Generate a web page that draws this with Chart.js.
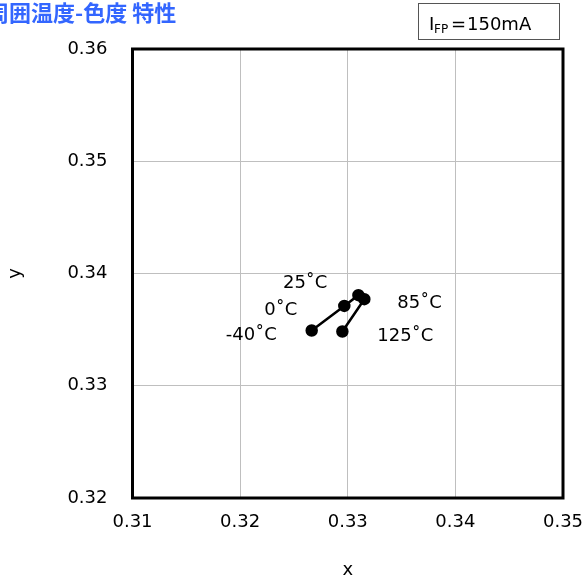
<!DOCTYPE html>
<html>
<head>
<meta charset="utf-8">
<script src="https://cdn.jsdelivr.net/npm/chart.js@4"></script>
<style>
  html, body { margin: 0; padding: 0; background: #fff; }
  #chart { display: block; }
</style>
</head>
<body>
<canvas id="chart" width="584" height="584"></canvas>
<script>
// chromaticity x/y per ambient temperature
const tempLabels = ['-40˚C', '0˚C', '25˚C', '85˚C', '125˚C'];
const xValues = [0.32665, 0.32968, 0.33099, 0.33154, 0.32950];
const yValues = [0.33492, 0.33711, 0.33807, 0.33771, 0.33483];
const xTicks = [0.31, 0.32, 0.33, 0.34, 0.35];
const yTicks = [0.32, 0.33, 0.34, 0.35, 0.36];

const titleText = '周囲温度-色度 特性';

const tickFont = { family: 'DejaVu Sans', size: 18 };

// where each temperature label sits relative to its point
const labelPlace = [
    { dx: -35, dy: 5, align: 'right' },
    { dx: -47, dy: 4, align: 'right' },
    { dx: -31, dy: -12, align: 'right' },
    { dx: 33, dy: 4, align: 'left' },
    { dx: 35, dy: 5, align: 'left' }
];

const decorations = {
    id: 'decorations',
    beforeDatasetsDraw(chart) {
        const { ctx, chartArea: a } = chart;
        ctx.save();
        ctx.strokeStyle = '#000';
        ctx.lineWidth = 3;
        ctx.strokeRect(a.left, a.top, a.right - a.left, a.bottom - a.top);
        ctx.restore();
    },
    afterDatasetsDraw(chart) {
        const { ctx } = chart;
        const meta = chart.getDatasetMeta(0);
        ctx.save();
        ctx.fillStyle = '#000';
        ctx.font = '18px "DejaVu Sans"';
        ctx.textBaseline = 'middle';
        meta.data.forEach((pt, i) => {
            const p = labelPlace[i];
            ctx.textAlign = p.align;
            ctx.fillText(tempLabels[i], pt.x + p.dx, pt.y + p.dy);
        });

        // title
        ctx.textAlign = 'left';
        ctx.fillStyle = '#3366ff';
        ctx.font = 'bold 22px "Noto Sans CJK JP"';
        ctx.fillText(titleText, -13, 13);

        // condition box
        ctx.strokeStyle = '#555';
        ctx.lineWidth = 1;
        ctx.strokeRect(418.5, 3.5, 141, 36);
        ctx.fillStyle = '#000';
        ctx.textBaseline = 'alphabetic';
        ctx.font = '18px "DejaVu Sans"';
        ctx.fillText('I', 429, 30);
        ctx.font = '12px "DejaVu Sans"';
        ctx.fillText('FP', 434, 33);
        ctx.font = '18px "DejaVu Sans"';
        ctx.fillText('=', 451, 30);
        ctx.fillText('150mA', 467, 30);
        ctx.restore();
    }
};

const points = xValues.map((x, i) => ({ x: x, y: yValues[i] }));

new Chart(document.getElementById('chart').getContext('2d'), {
    type: 'scatter',
    data: {
        datasets: [{
            data: points,
            showLine: true,
            borderColor: '#000',
            backgroundColor: '#000',
            borderWidth: 2.5,
            pointRadius: 5,
            pointHoverRadius: 5,
            tension: 0
        }]
    },
    options: {
        responsive: false,
        animation: false,
        devicePixelRatio: 1,
        layout: { padding: { top: 49, right: 0, left: 0, bottom: 0 } },
        plugins: {
            legend: { display: false },
            tooltip: { enabled: false }
        },
        scales: {
            x: {
                type: 'linear',
                min: xTicks[0],
                max: xTicks[xTicks.length - 1],
                afterBuildTicks: (s) => { s.ticks = xTicks.map(v => ({ value: v })); },
                afterFit: (s) => {
                    s.height = 86;
                    s.paddingLeft = 0;
                    s.paddingRight = 21;
                },
                grid: { color: '#bfbfbf', lineWidth: 1, drawTicks: false },
                border: { display: false },
                ticks: {
                    font: tickFont,
                    color: '#000',
                    padding: 14,
                    maxRotation: 0,
                    callback: (v) => v.toFixed(2)
                },
                title: {
                    display: true,
                    text: 'x',
                    font: tickFont,
                    color: '#000',
                    padding: { top: 0, bottom: 3 }
                }
            },
            y: {
                type: 'linear',
                min: yTicks[0],
                max: yTicks[yTicks.length - 1],
                afterBuildTicks: (s) => { s.ticks = yTicks.map(v => ({ value: v })); },
                afterFit: (s) => {
                    s.width = 132.5;
                    s.paddingTop = 0;
                    s.paddingBottom = 0;
                },
                grid: { color: '#bfbfbf', lineWidth: 1, drawTicks: false },
                border: { display: false },
                ticks: {
                    font: tickFont,
                    color: '#000',
                    padding: 25,
                    callback: (v) => v.toFixed(2)
                },
                title: {
                    display: true,
                    text: 'y',
                    font: tickFont,
                    color: '#000',
                    padding: { top: 5, bottom: 0 }
                }
            }
        }
    },
    plugins: [decorations]
});
</script>
</body>
</html>
